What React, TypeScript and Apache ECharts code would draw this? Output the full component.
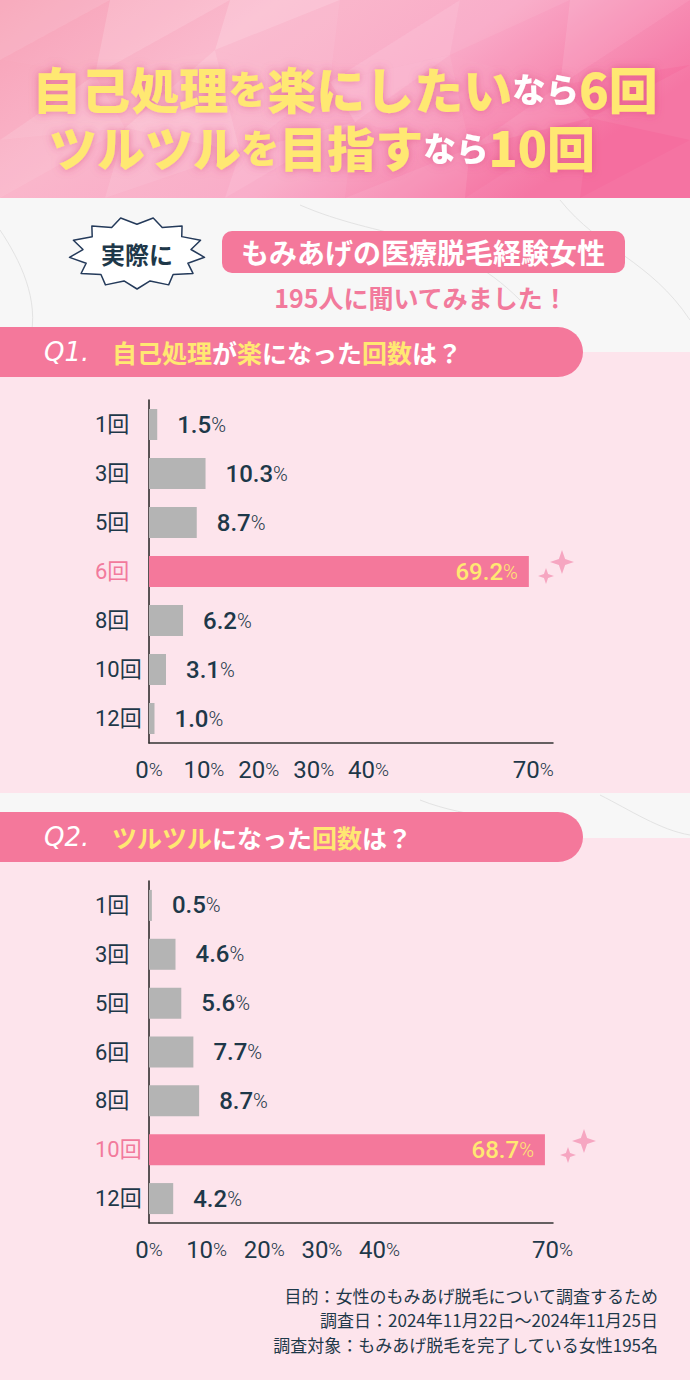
import React, { useEffect, useRef } from "react";
import * as echarts from "echarts";

// ---------- data ----------
const q1Categories = ["1回", "3回", "5回", "6回", "8回", "10回", "12回"];
const q1Values = [1.5, 10.3, 8.7, 69.2, 6.2, 3.1, 1.0];
const q2Categories = ["1回", "3回", "5回", "6回", "8回", "10回", "12回"];
const q2Values = [0.5, 4.6, 5.6, 7.7, 8.7, 68.7, 4.2];
const tickLabels = [0, 10, 20, 30, 40, 70];

const titleLine1 = ["自己処理", "を", "楽にしたい", "なら", "6回"];
const titleLine2 = ["ツルツル", "を", "目指す", "なら", "10回"];
const footerLines = [
  "目的：女性のもみあげ脱毛について調査するため",
  "調査日：2024年11月22日～2024年11月25日",
  "調査対象：もみあげ脱毛を完了している女性195名",
];

// ---------- styles ----------
const NAVY = "#1E3849";
const PINK = "#F4789B";
const PINK_TXT = "#F27A9C";
const GREY = "#B4B4B4";
const YELLOW = "#FFE872";
const PANEL = "#FDE4EC";
const CJK = "'Noto Sans CJK JP', sans-serif";
const NUM = "Roboto, 'Noto Sans CJK JP', sans-serif";

function burst(cx: number, cy: number, rx: number, ry: number, n: number, ratio: number) {
  const pts: number[][] = [];
  for (let i = 0; i < n * 2; i++) {
    const a = (Math.PI * i) / n + 0.12;
    const r = i % 2 === 0 ? 1 : ratio;
    pts.push([cx + Math.cos(a) * rx * r, cy + Math.sin(a) * ry * r]);
  }
  return pts;
}

function sparkle(cx: number, cy: number, r: number) {
  const ri = r * 0.26;
  return [
    [cx, cy - r], [cx + ri, cy - ri], [cx + r, cy], [cx + ri, cy + ri],
    [cx, cy + r], [cx - ri, cy + ri], [cx - r, cy], [cx - ri, cy - ri],
  ];
}

const polyRows = [
  [[0, 0], [110, 0], [230, 0], [340, 0], [460, 0], [570, 0], [690, 0]],
  [[0, 60], [95, 75], [215, 50], [330, 82], [450, 55], [560, 85], [690, 65]],
  [[0, 140], [125, 128], [240, 152], [355, 122], [470, 148], [590, 118], [690, 140]],
  [[0, 198], [105, 198], [225, 198], [345, 198], [465, 198], [580, 198], [690, 198]],
];
const polyAlpha = [
  0.12, 0.03, 0.18, 0.06, 0.22, 0.1, 0.05, 0.15, 0.08, 0.02, 0.12, 0.06,
  0.02, 0.14, 0.07, 0.2, 0.1, 0.04, 0.16, 0.08, 0.03, 0.1, 0.0, 0.06,
  0.09, 0.02, 0.12, 0.05, 0.15, 0.08, 0.04, 0.1, 0.02, 0.06, 0.0, 0.04,
];

function headerFacets() {
  const out: any[] = [];
  let k = 0;
  for (let r = 0; r < polyRows.length - 1; r++) {
    for (let c = 0; c < polyRows[r].length - 1; c++) {
      const a = polyRows[r][c], b = polyRows[r][c + 1], d = polyRows[r + 1][c], e = polyRows[r + 1][c + 1];
      out.push({ type: "polygon", silent: true, shape: { points: [a, b, d] }, style: { fill: `rgba(255,255,255,${polyAlpha[k++ % polyAlpha.length]})` } });
      out.push({ type: "polygon", silent: true, shape: { points: [b, e, d] }, style: { fill: `rgba(255,255,255,${polyAlpha[k++ % polyAlpha.length]})` } });
    }
  }
  return out;
}

function titleText(parts: string[], y: number, x: number, big: number) {
  const glow = { textShadowColor: "rgba(215,60,115,0.55)", textShadowBlur: 8 };
  const lh = { lineHeight: 48 };
  return {
    type: "text",
    x,
    y,
    style: {
      text: `{a|${parts[0]}}{b|${parts[1]}}{a|${parts[2]}}{w|${parts[3]}}{a|${parts[4]}}`,
      align: "center",
      verticalAlign: "middle",
      rich: {
        a: { fill: YELLOW, color: YELLOW, fontSize: big, fontWeight: 900, fontFamily: CJK, ...glow, ...lh },
        b: { fill: YELLOW, color: YELLOW, fontSize: big * 0.8, fontWeight: 900, fontFamily: CJK, ...glow, ...lh },
        w: { fill: "#FFFFFF", color: "#FFFFFF", fontSize: big * 0.68, fontWeight: 900, fontFamily: CJK, ...glow, ...lh },
      },
    },
  };
}

function qHeader(y: number, label: string, text: string) {
  return [
    { type: "rect", shape: { x: -30, y: y - 25, width: 613, height: 50, r: 25 }, style: { fill: PINK } },
    {
      type: "text", x: 44, y, style: {
        text: label, fill: "#FFFFFF", fontSize: 26, fontStyle: "italic", fontWeight: 300,
        fontFamily: "'DejaVu Sans', sans-serif", verticalAlign: "middle", align: "left",
      },
    },
    {
      type: "text", x: 112, y, style: {
        text, verticalAlign: "middle", align: "left",
        rich: {
          y: { fill: YELLOW, color: YELLOW, fontSize: 25, fontWeight: 700, fontFamily: CJK },
          w: { fill: "#FFFFFF", color: "#FFFFFF", fontSize: 25, fontWeight: 700, fontFamily: CJK },
        },
      },
    },
  ];
}

function barSeries(values: number[], idx: number) {
  const maxIdx = values.indexOf(Math.max(...values));
  return {
    type: "bar",
    xAxisIndex: idx,
    yAxisIndex: idx,
    z: 6,
    barWidth: 31,
    itemStyle: { color: GREY },
    label: {
      show: true,
      position: "right",
      distance: 20,
      formatter: (p: any) => `{v|${Number(p.value).toFixed(1)}}{p|%}`,
      rich: {
        v: { color: NAVY, fontSize: 24, fontWeight: 500, fontFamily: NUM },
        p: { color: NAVY, fontSize: 20, fontWeight: 300, fontFamily: NUM },
      },
    },
    data: values.map((v, i) =>
      i === maxIdx
        ? {
            value: v,
            itemStyle: { color: PINK },
            label: {
              show: true,
              position: "insideRight",
              distance: 11,
              formatter: (p: any) => `{v|${Number(p.value).toFixed(1)}}{p|%}`,
              rich: {
                v: { color: YELLOW, fontSize: 24, fontWeight: 500, fontFamily: NUM },
                p: { color: YELLOW, fontSize: 20, fontWeight: 300, fontFamily: NUM },
              },
            },
          }
        : v
    ),
  };
}

function yAxisFor(cats: string[], values: number[], idx: number) {
  const maxIdx = values.indexOf(Math.max(...values));
  return {
    type: "category",
    gridIndex: idx,
    data: cats,
    inverse: true,
    z: 5,
    axisLine: { show: true, lineStyle: { color: "#222222", width: 1.5 } },
    axisTick: { show: false },
    axisLabel: {
      margin: 54,
      align: "left",
      fontSize: 22,
      fontFamily: NUM,
      color: (v: string) => (v === cats[maxIdx] ? PINK_TXT : NAVY),
    },
  };
}

function xAxisFor(idx: number, max: number) {
  return {
    type: "value",
    gridIndex: idx,
    min: 0,
    max,
    interval: 10,
    z: 5,
    splitLine: { show: false },
    axisTick: { show: false },
    axisLine: { show: true, lineStyle: { color: "#333333", width: 1.5 } },
    axisLabel: {
      margin: 15,
      showMaxLabel: false,
      formatter: (v: number) => (tickLabels.indexOf(v) >= 0 ? `{n|${v}}{p|%}` : ""),
      rich: {
        n: { color: NAVY, fontSize: 24, fontWeight: 400, fontFamily: NUM },
        p: { color: NAVY, fontSize: 19, fontWeight: 300, fontFamily: NUM },
      },
    },
  };
}

export default function App() {
  const ref = useRef<HTMLDivElement>(null);
  useEffect(() => {
    if (!ref.current) return;
    const chart = echarts.init(ref.current, null, { renderer: "svg" });

    const veins = [
      [[300, 205], [380, 240], [450, 230], [520, 300]],
      [[560, 200], [600, 250], [650, 260], [690, 320]],
      [[0, 230], [20, 260], [40, 300], [30, 340]],
      [[420, 800], [470, 820], [520, 815], [560, 840]],
      [[600, 795], [630, 810], [660, 830], [690, 835]],
    ];

    const graphics: any[] = [
      // marble background
      { type: "rect", shape: { x: 0, y: 0, width: 690, height: 1380 }, style: { fill: "#F7F7F7" } },
      ...veins.map((v) => ({
        type: "bezierCurve",
        shape: { x1: v[0][0], y1: v[0][1], cpx1: v[1][0], cpy1: v[1][1], cpx2: v[2][0], cpy2: v[2][1], x2: v[3][0], y2: v[3][1] },
        style: { stroke: "#E3E3E3", lineWidth: 1, fill: "none" },
      })),
      // header
      {
        type: "rect",
        shape: { x: 0, y: 0, width: 690, height: 198 },
        style: {
          fill: new echarts.graphic.LinearGradient(0, 0, 1, 0.4, [
            { offset: 0, color: "#F7A0B5" },
            { offset: 0.35, color: "#FAB5CA" },
            { offset: 0.65, color: "#F9A8C6" },
            { offset: 1, color: "#F56E9F" },
          ]),
        },
      },
      ...headerFacets(),
      titleText(titleLine1, 87, 345, 49),
      titleText(titleLine2, 146, 322, 48),
      // panels
      { type: "rect", shape: { x: 0, y: 352, width: 690, height: 441 }, style: { fill: PANEL } },
      { type: "rect", shape: { x: 0, y: 838, width: 690, height: 542 }, style: { fill: PANEL } },
      // burst bubble
      {
        type: "polygon",
        shape: { points: burst(137, 253, 68, 36, 13, 0.8) },
        style: { fill: "#FFFFFF", stroke: "#243A5A", lineWidth: 1.5, lineJoin: "round" },
      },
      {
        type: "text", x: 137, y: 253,
        style: { text: "実際に", fill: NAVY, fontSize: 24, fontWeight: 700, fontFamily: CJK, align: "center", verticalAlign: "middle" },
      },
      { type: "rect", shape: { x: 222, y: 231, width: 403, height: 42, r: 10 }, style: { fill: PINK } },
      {
        type: "text", x: 423, y: 252,
        style: { text: "もみあげの医療脱毛経験女性", fill: "#FFFFFF", fontSize: 28, fontWeight: 700, fontFamily: CJK, align: "center", verticalAlign: "middle" },
      },
      {
        type: "text", x: 421, y: 297,
        style: { text: "195人に聞いてみました！", fill: PINK_TXT, fontSize: 25, fontWeight: 700, fontFamily: CJK, align: "center", verticalAlign: "middle" },
      },
      ...qHeader(352, "Q1.", "{y|自己処理}{w|が}{y|楽}{w|になった}{y|回数}{w|は？}"),
      ...qHeader(837, "Q2.", "{y|ツルツル}{w|になった}{y|回数}{w|は？}"),
      // sparkles
      { type: "polygon", shape: { points: sparkle(562, 562, 12) }, style: { fill: "#F6A6C1" } },
      { type: "polygon", shape: { points: sparkle(546, 576, 8) }, style: { fill: "#F6A6C1" } },
      { type: "polygon", shape: { points: sparkle(584, 1141, 12) }, style: { fill: "#F6A6C1" } },
      { type: "polygon", shape: { points: sparkle(568, 1155, 8) }, style: { fill: "#F6A6C1" } },
      // footer
      ...footerLines.map((t, i) => ({
        type: "text", x: 658, y: 1295 + i * 24.5,
        style: { text: t, fill: NAVY, fontSize: 17, fontFamily: CJK, align: "right", verticalAlign: "middle" },
      })),
    ];

    chart.setOption({
      animation: false,
      graphic: { elements: graphics },
      grid: [
        { left: 149, top: 400, width: 404, height: 343 },
        { left: 149, top: 881, width: 404, height: 342 },
      ],
      xAxis: [xAxisFor(0, 73.6), xAxisFor(1, 70.1)],
      yAxis: [yAxisFor(q1Categories, q1Values, 0), yAxisFor(q2Categories, q2Values, 1)],
      series: [barSeries(q1Values, 0), barSeries(q2Values, 1)],
    });
    return () => chart.dispose();
  }, []);
  return <div ref={ref} style={{ position: "absolute", left: 0, top: 0, width: 690, height: 1380 }} />;
}
